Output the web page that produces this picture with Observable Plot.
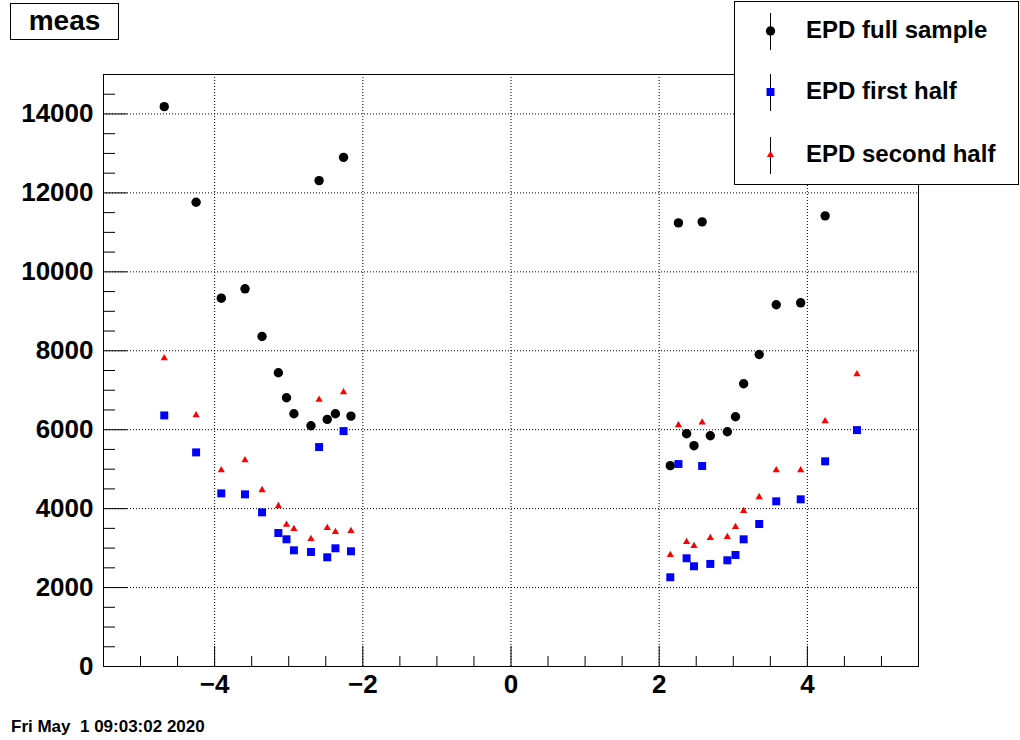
<!DOCTYPE html>
<html>
<head>
<meta charset="utf-8">
<script src="https://cdn.jsdelivr.net/npm/d3@7"></script>
<script src="https://cdn.jsdelivr.net/npm/@observablehq/plot@0.6"></script>
<style>
  html, body { margin: 0; padding: 0; background: white; }
  #wrap { position: relative; width: 1020px; height: 740px; overflow: hidden; }
  #wrap > svg { position: absolute; left: 0; top: 0; }
</style>
</head>
<body>
<div id="wrap"></div>
<script>
// ---- data ----
const eta = [-4.68, -4.25, -3.91, -3.59, -3.36, -3.14, -3.03, -2.93, -2.70, -2.59, -2.48, -2.37, -2.26, -2.16,
              2.15,  2.26,  2.37,  2.47,  2.58,  2.69,  2.92,  3.03,  3.14,  3.35,  3.58,  3.91,  4.24,  4.67];
const fullSample = [14185, 11762, 9332, 9570, 8362, 7443, 6810, 6405, 6101, 12312, 6261, 6405, 12901, 6344,
                    5089, 11240, 5899, 5595, 11266, 5848, 5949, 6329, 7164, 7906, 9165, 9215, 11418, 13400];
const firstHalf = [6362, 5425, 4387, 4362, 3906, 3382, 3223, 2944, 2902, 5560, 2767, 2995, 5965, 2919,
                   2261, 5130, 2742, 2540, 5080, 2599, 2691, 2826, 3223, 3611, 4185, 4236, 5198, 5990];
const secondHalf = [7813, 6370, 4977, 5230, 4471, 4066, 3595, 3484, 3230, 6759, 3509, 3408, 6952, 3433,
                    2826, 6117, 3155, 3054, 6185, 3256, 3282, 3535, 3940, 4294, 4977, 4977, 6218, 7408];
const seriesNames = ["EPD full sample", "EPD first half", "EPD second half"];
const xMajorTicks = [-4, -2, 0, 2, 4];
const xTickLabels = ["\u22124", "\u22122", "0", "2", "4"];
const xMinorTicks = [-5, -4.5, -3.5, -3, -2.5, -1.5, -1, -0.5, 0.5, 1, 1.5, 2.5, 3, 3.5, 4.5, 5];
const yMajorTicks = [0, 2000, 4000, 6000, 8000, 10000, 12000, 14000];
const yTickLabels = ["0", "2000", "4000", "6000", "8000", "10000", "12000", "14000"];
const yMinorTicks = [500, 1000, 1500, 2500, 3000, 3500, 4500, 5000, 5500, 6500, 7000, 7500,
                     8500, 9000, 9500, 10500, 11000, 11500, 12500, 13000, 13500, 14500];
const titleText = "meas";
const dateText = "Fri May  1 09:03:02 2020";

// ---- layout / style ----
const W = 1020, H = 740;
const mL = 103, mR = 102, mT = 74, mB = 74;
const innerW = W - mL - mR, innerH = H - mT - mB;
const FONT = "'Liberation Sans', Arial, Helvetica, sans-serif";
const colors = ["#000000", "#0000ff", "#ff0000"];

const rows = eta.map((e, i) => ({eta: e, full: fullSample[i], first: firstHalf[i], second: secondHalf[i]}));

const chart = Plot.plot({
  width: W, height: H,
  marginLeft: mL, marginRight: mR, marginTop: mT, marginBottom: mB,
  x: {domain: [-5.5, 5.5]},
  y: {domain: [0, 15000]},
  style: {fontFamily: FONT, background: "white", color: "black"},
  marks: [
    Plot.gridX(xMajorTicks, {stroke: "black", strokeOpacity: 1, strokeDasharray: "1,2", strokeWidth: 1}),
    Plot.gridY(yMajorTicks, {stroke: "black", strokeOpacity: 1, strokeDasharray: "1,2", strokeWidth: 1}),
    Plot.frame({stroke: "black", strokeWidth: 1}),
    // inward tick marks
    Plot.tickX(xMajorTicks, {x: d => d, insetTop: innerH - 20, stroke: "black"}),
    Plot.tickX(xMinorTicks, {x: d => d, insetTop: innerH - 10, stroke: "black"}),
    Plot.tickY(yMajorTicks, {y: d => d, insetRight: innerW - 24, stroke: "black"}),
    Plot.tickY(yMinorTicks, {y: d => d, insetRight: innerW - 12, stroke: "black"}),
    Plot.axisX(xMajorTicks, {tickSize: 0, tickPadding: 8, label: null, fontSize: 26, fontWeight: "bold",
      tickFormat: d => xTickLabels[xMajorTicks.indexOf(d)]}),
    Plot.axisY(yMajorTicks, {tickSize: 0, tickPadding: 10, label: null, fontSize: 26, fontWeight: "bold",
      tickFormat: d => yTickLabels[yMajorTicks.indexOf(d)]}),
    // data
    Plot.dot(rows, {x: "eta", y: "full", r: 4.7, symbol: "circle", fill: colors[0], stroke: "none"}),
    Plot.dot(rows, {x: "eta", y: "first", r: 4.5, symbol: "square", fill: colors[1], stroke: "none"}),
    Plot.dot(rows, {x: "eta", y: "second", r: 2.7, symbol: "triangle", fill: colors[2], stroke: "none"})
  ]
});
const wrap = document.getElementById("wrap");
wrap.appendChild(chart);

// ---- overlay: title box, legend, date ----
const ov = d3.select(wrap).append("svg")
  .attr("width", W).attr("height", H)
  .style("font-family", FONT).style("font-weight", "bold");

// title box
ov.append("rect").attr("x", 10.5).attr("y", 3.5).attr("width", 108).attr("height", 36)
  .attr("fill", "white").attr("stroke", "black");
ov.append("text").attr("x", 64.5).attr("y", 29.5).attr("text-anchor", "middle")
  .attr("font-size", 28).text(titleText);

// legend
const lg = ov.append("g").attr("transform", "translate(734,1)");
lg.append("rect").attr("x", 0.5).attr("y", 0.5).attr("width", 284).attr("height", 183)
  .attr("fill", "white").attr("stroke", "black");
const symbols = [d3.symbolCircle, d3.symbolSquare, d3.symbolTriangle];
const symSize = [Math.PI * 4.7 * 4.7, Math.PI * 4.5 * 4.5, Math.PI * 2.7 * 2.7];
const rowY = [30, 91, 154];
seriesNames.forEach((name, i) => {
  const g = lg.append("g").attr("transform", `translate(36.5,${rowY[i]})`);
  g.append("line").attr("x1", 0).attr("x2", 0).attr("y1", -18).attr("y2", 19).attr("stroke", "black");
  g.append("path").attr("d", d3.symbol(symbols[i], symSize[i])()).attr("fill", colors[i]);
  lg.append("text").attr("x", 72).attr("y", rowY[i] + 7).attr("font-size", 24).attr("fill", "black").text(name);
});

// date
ov.append("text").attr("x", 11).attr("y", 732).attr("font-size", 17)
  .attr("xml:space", "preserve").style("white-space", "pre").text(dateText);
</script>
</body>
</html>
